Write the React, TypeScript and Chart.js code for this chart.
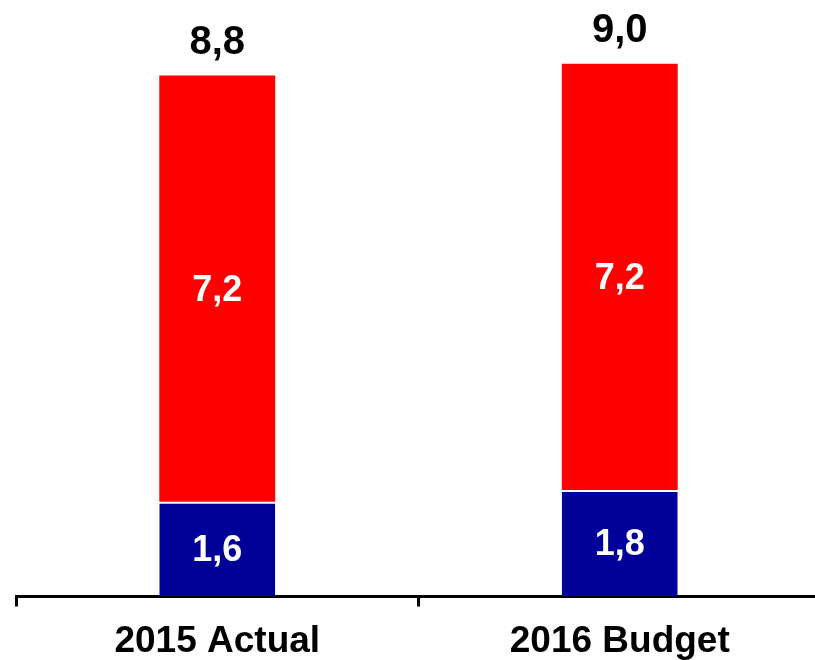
import React, { useEffect, useRef } from "react";
import { Chart, registerables } from "chart.js";

Chart.register(...registerables);

const categories = ["2015 Actual", "2016 Budget"];
const bottomValues = [1.6, 1.8];
const topValues = [7.2, 7.2];
const seriesNames = ["Bottom", "Top"];
const seriesColors = ["#000099", "#FF0000"];
const yMax = 10;

const FONT = "'Liberation Sans', Arial, Helvetica, sans-serif";

const fmt = (v: number) => v.toFixed(1).replace(".", ",");

const labelPlugin = {
  id: "valueLabels",
  afterDatasetsDraw(chart: any) {
    const ctx = chart.ctx;
    ctx.save();
    ctx.textAlign = "center";
    chart.data.datasets.forEach((ds: any, di: number) => {
      const meta = chart.getDatasetMeta(di);
      meta.data.forEach((bar: any, i: number) => {
        const v = ds.data[i];
        ctx.fillStyle = "#FFFFFF";
        ctx.font = `bold 36px ${FONT}`;
        ctx.textBaseline = "middle";
        ctx.fillText(fmt(v), bar.x, (bar.y + bar.base) / 2 + 2);
      });
    });
    const lastIdx = chart.data.datasets.length - 1;
    const lastMeta = chart.getDatasetMeta(lastIdx);
    lastMeta.data.forEach((bar: any, i: number) => {
      const total = chart.data.datasets.reduce((s: number, ds: any) => s + ds.data[i], 0);
      ctx.fillStyle = "#000000";
      ctx.font = `bold 40px ${FONT}`;
      ctx.textBaseline = "alphabetic";
      ctx.fillText(fmt(total), bar.x, bar.y - 22);
    });
    ctx.restore();
  },
};

export default function App() {
  const ref = useRef<HTMLCanvasElement | null>(null);
  useEffect(() => {
    if (!ref.current) return;
    const chart = new Chart(ref.current, {
      type: "bar",
      data: {
        labels: categories,
        datasets: [
          {
            label: seriesNames[0],
            data: bottomValues,
            backgroundColor: seriesColors[0],
            borderColor: "#FFFFFF",
            borderWidth: { top: 2, left: 0, right: 0, bottom: 0 },
            borderSkipped: false,
            categoryPercentage: 1,
            barPercentage: 0.288,
          },
          {
            label: seriesNames[1],
            data: topValues,
            backgroundColor: seriesColors[1],
            borderWidth: 0,
            categoryPercentage: 1,
            barPercentage: 0.288,
          },
        ],
      },
      options: {
        responsive: false,
        animation: false,
        devicePixelRatio: 1,
        layout: { padding: { left: 16, right: 1, top: 4.5, bottom: 0 } },
        plugins: {
          legend: { display: false },
          tooltip: { enabled: false },
          title: { display: false },
        },
        scales: {
          x: {
            stacked: true,
            afterFit: (scale: any) => {
              scale.height = 63.5;
            },
            grid: {
              display: true,
              drawOnChartArea: false,
              drawTicks: true,
              tickLength: 10,
              lineWidth: 3,
              color: "#000000",
              offset: true,
            },
            border: { display: true, color: "#000000", width: 3 },
            ticks: {
              color: "#000000",
              padding: 17,
              font: { family: FONT, size: 37, weight: "bold", lineHeight: 1 },
              maxRotation: 0,
            },
          },
          y: {
            stacked: true,
            display: false,
            min: 0,
            max: yMax,
          },
        },
      },
      plugins: [labelPlugin],
    });
    return () => chart.destroy();
  }, []);
  return (
    <div
      style={{
        position: "fixed",
        left: 0,
        top: 0,
        width: 815,
        height: 660,
        overflow: "hidden",
        background: "#FFFFFF",
      }}
    >
      <canvas ref={ref} width={822} height={660} style={{ display: "block" }} />
    </div>
  );
}
